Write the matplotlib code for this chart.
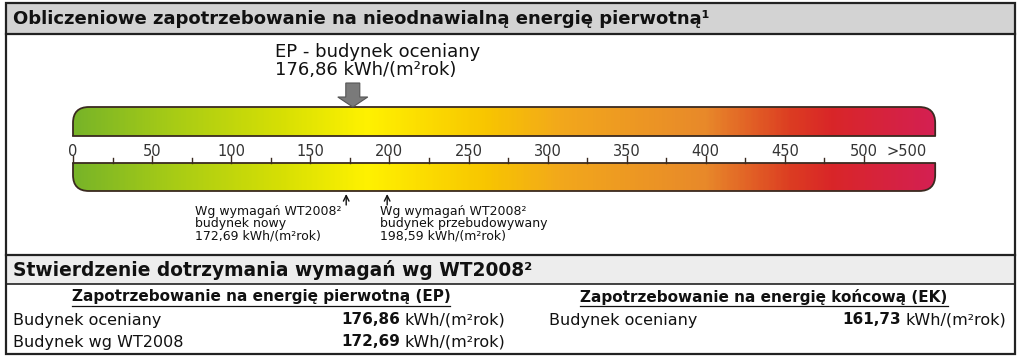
import numpy as np
import matplotlib.pyplot as plt
from matplotlib.colors import LinearSegmentedColormap
from matplotlib.patches import FancyBboxPatch, Rectangle, FancyArrow

plt.rcParams['font.family'] = ['DejaVu Sans']

# data
scale_ticks = [0, 50, 100, 150, 200, 250, 300, 350, 400, 450, 500]
minor_ticks = [25, 75, 125, 175, 225, 275, 325, 375, 425, 475]
over_label = '>500'
bar_end = 545
ep_value = 176.86
wt_new = 172.69
wt_rebuilt = 198.59
ek_value = 161.73
grad_pos = [0, 60, 130, 185, 260, 310, 400, 455, 480, 545]
grad_col = ['#78b428', '#a6cb16', '#d6df04', '#fff200', '#f8c600', '#f2a71c',
            '#e8892a', '#dc3c22', '#d92628', '#d42052']

fmt = lambda v: ('%.2f' % v).replace('.', ',')
unit = 'kWh/(m²rok)'

W, H = 1024, 357
fig = plt.figure(figsize=(W / 100, H / 100), dpi=100)
ax = fig.add_axes([0, 0, 1, 1])
ax.set_xlim(0, W)
ax.set_ylim(H, 0)
ax.axis('off')

# scale axes: x in kWh units, y in pixels
x0px, k = 73, 500 / 791
sc = fig.add_axes([0, 0, 1, 1])
sc.set_xlim(-x0px * k, (W - x0px) * k)
sc.set_ylim(H, 0)
sc.axis('off')
sc.patch.set_alpha(0)

# frame and headers
ax.add_patch(Rectangle((6, 3), 1009, 31, facecolor='#d3d3d3', edgecolor='none'))
ax.add_patch(Rectangle((6, 255), 1009, 29, facecolor='#ededed', edgecolor='none'))
ax.add_patch(Rectangle((6, 3), 1009, 351, facecolor='none', edgecolor='#222222', lw=1.6))
for yy, lw in [(34, 1.6), (255, 1.6), (284, 1.2)]:
    ax.plot([6, 1015], [yy, yy], color='#222222', lw=lw)

ax.text(13, 19, 'Obliczeniowe zapotrzebowanie na nieodnawialną energię pierwotną¹',
        fontsize=13, fontweight='bold', va='center', color='#111111')
ax.text(13, 270, 'Stwierdzenie dotrzymania wymagań wg WT2008²',
        fontsize=13.4, fontweight='bold', va='center', color='#111111')

# gradient bar
cmap = LinearSegmentedColormap.from_list('ep', list(zip(np.array(grad_pos) / bar_end, grad_col)))
ytop, ybot = 107, 191
img = sc.imshow(np.linspace(0, 1, 400)[None, :], cmap=cmap, aspect='auto',
                extent=[0, bar_end, ybot, ytop], interpolation='bilinear')
r = 16
box = FancyBboxPatch((0, ytop), bar_end, ybot - ytop,
                     boxstyle='round,pad=0,rounding_size=%f' % (r * k),
                     mutation_aspect=1 / k, facecolor='none', edgecolor='#3a2a20', lw=1.3)
sc.add_patch(box)
img.set_clip_path(box)
# white gap with the scale
sc.add_patch(Rectangle((-5, 136), bar_end + 10, 163 - 136, facecolor='white', edgecolor='none', zorder=3))
sc.plot([0, bar_end], [136, 136], color='#3a2a20', lw=1.3, zorder=4)
sc.plot([0, bar_end], [163, 163], color='#3a2a20', lw=1.3, zorder=4)
for t in scale_ticks:
    sc.plot([t, t], [163, 156], color='#3a2a20', lw=1.0, zorder=4)
    sc.text(t, 152, str(t), ha='center', va='center', fontsize=10.5, color='#333333', zorder=5)
for t in minor_ticks:
    sc.plot([t, t], [163, 158], color='#3a2a20', lw=1.0, zorder=4)
sc.text(527, 152, over_label, ha='center', va='center', fontsize=10.5, color='#333333', zorder=5)

# EP arrow and label
sc.add_patch(FancyArrow(ep_value, 83, 0, 24, width=14 * k, head_width=30 * k, head_length=10,
                        length_includes_head=True, facecolor='#7a7a7a', edgecolor='#555555', lw=0.8))
ax.text(275, 52, 'EP - budynek oceniany', fontsize=13, va='center', color='#111111')
ax.text(275, 70, '176,86 ' + unit, fontsize=13, va='center', color='#111111')

# requirement markers
for v, x_txt, lines in [(wt_new, 195, ['Wg wymagań WT2008²', 'budynek nowy', fmt(wt_new) + ' ' + unit]),
                        (wt_rebuilt, 380, ['Wg wymagań WT2008²', 'budynek przebudowywany', fmt(wt_rebuilt) + ' ' + unit])]:
    sc.annotate('', xy=(v, 194), xytext=(v, 205),
                arrowprops=dict(arrowstyle='->', color='#111111', lw=1.0, shrinkA=0, shrinkB=0))
    for i, ln in enumerate(lines):
        ax.text(x_txt, 212 + 12 * i, ln, fontsize=9, va='center', color='#111111')

# table
fig.canvas.draw()
rend = fig.canvas.get_renderer()


def underlined(x, y, s):
    t = ax.text(x, y, s, fontsize=11, fontweight='bold', ha='center', va='center', color='#111111')
    bb = t.get_window_extent(rend).transformed(ax.transData.inverted())
    ax.plot([bb.x0, bb.x1], [y + 9, y + 9], color='#111111', lw=0.9)


def value_cell(xr, y, v):
    u = ax.text(xr, y, unit, fontsize=11.5, ha='right', va='center', color='#111111')
    bb = u.get_window_extent(rend).transformed(ax.transData.inverted())
    ax.text(bb.x0 - 4, y, fmt(v), fontsize=11, fontweight='bold', ha='right', va='center', color='#111111')


underlined(261, 297, 'Zapotrzebowanie na energię pierwotną (EP)')
underlined(764, 297, 'Zapotrzebowanie na energię końcową (EK)')
ax.text(13, 320, 'Budynek oceniany', fontsize=11.5, va='center', color='#111111')
ax.text(13, 342, 'Budynek wg WT2008', fontsize=11.5, va='center', color='#111111')
value_cell(505, 320, ep_value)
value_cell(505, 342, wt_new)
ax.text(549, 320, 'Budynek oceniany', fontsize=11.5, va='center', color='#111111')
value_cell(1006, 320, ek_value)

fig.savefig('out.png', dpi=100)
